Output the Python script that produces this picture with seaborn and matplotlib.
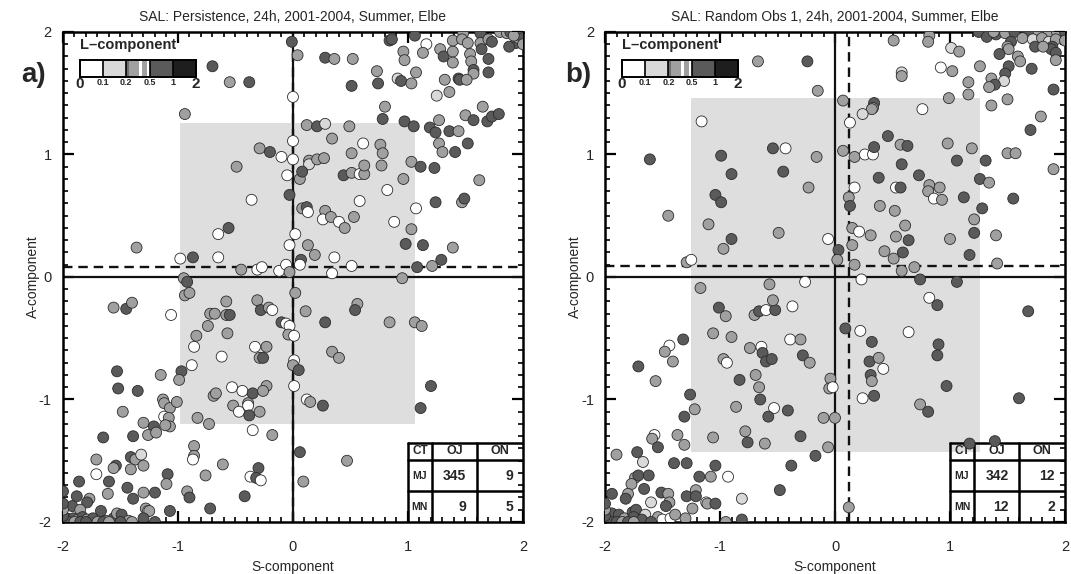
import matplotlib
matplotlib.use("Agg")
import matplotlib.pyplot as plt
from matplotlib.patches import Rectangle
from matplotlib.ticker import MultipleLocator
import pandas as pd
import seaborn as sns

# --- data ---
# panel a) Persistence: S-component, A-component, L-class code per point
pers_s = [
    -0.94, 0.12, 0.21, 0.28, 0.49, 0.78, 0.80, 0.97, 1.05, 1.19,
    1.24, 1.27, 1.36, 1.44, 1.50, 1.57, 1.65, 1.69, 1.73, 1.79,
    0.00, -0.29, -0.20, -0.10, 0.00, 0.14, 0.14, 0.21, 0.27, 0.34,
    0.51, 0.61, 0.76, 0.78, 1.27, 1.30, 1.41, 1.52, 1.03, 1.11,
    1.23, -0.49, -0.05, 0.06, 0.08, 0.44, 0.51, 0.58, 0.62, 0.62,
    0.77, 0.96, 1.62, -0.36, -0.03, 0.08, 0.12, 0.13, 0.28, 0.26,
    0.33, 0.40, 0.45, 0.53, 0.58, 0.82, 0.88, 1.07, 1.03, 1.24,
    1.47, 1.49, -0.56, -0.65, 0.02, -0.03, 0.13, 0.19, 0.07, 0.36,
    0.51, 0.06, 0.98, 1.13, 1.39, 1.29, 1.21, 1.08, -1.36, -0.98,
    -0.87, -0.65, -0.45, -0.31, -0.27, -0.12, -0.06, -0.03, 0.34, 0.95,
    -0.95, -0.92, -0.94, -0.90, -1.56, -1.45, -1.40, -1.06, -0.58, -0.72,
    -0.68, -0.58, -0.55, -0.31, -0.28, -0.21, -0.18, 0.02, 0.11, -0.10,
    -0.06, -0.03, -0.04, 0.01, 0.28, 0.56, 0.54, 0.84, 1.06, 1.12,
    -0.74, -0.84, -0.86, -0.62, -0.57, -0.33, -0.23, -0.29, -0.26, 0.01,
    0.00, 0.05, 0.01, 0.34, 0.40, -1.53, -1.52, -1.35, -1.15, -0.97,
    -0.99, -0.88, -1.13, -1.12, -1.07, -1.01, -1.48, -0.53, -0.44, -0.35,
    -0.23, -0.26, -0.69, -0.67, -0.52, -0.47, -0.39, -0.39, -0.38, -0.29,
    0.12, 0.15, 0.26, 1.20, 1.11, -1.30, -1.21, -1.12, -1.08, -1.07,
    -1.11, -0.83, -0.73, -0.35, -1.65, -1.39, -1.26, -1.19, -0.18, -0.86,
    -0.86, -0.87, -1.71, -1.54, -1.56, -1.41, -1.37, -1.32, -1.30, -1.41,
    -1.71, -1.09, -1.10, -0.61, -0.76, -0.30, -0.37, -0.32, -0.28, 0.06,
    0.09, 0.47, -1.86, -1.60, -1.61, -1.44, -1.30, -1.20, -1.88, -1.77,
    -1.79, -1.92, -1.85, -1.67, -1.39, -1.28, -1.26, -1.25, -0.92, -0.90,
    -0.72, -0.42, -1.07, -1.97, -1.91, -1.87, -1.83, -1.79, -1.74, -1.63,
    -1.56, -1.53, -1.49, -1.43, -1.30, -2.00, -1.95, -1.90, -1.85, -1.80,
    -1.70, -1.65, -1.60, -1.50, -2.00, -2.00, -2.00, -2.00, -1.40, -1.20,
    -0.01, 0.04, 0.28, 0.36, 0.52, -0.70, -0.55, -0.38, 0.51, 0.74,
    0.73, 0.91, 0.84, 0.86, 0.00, 1.06, 1.16, 1.13, 0.96, 0.97,
    1.07, 0.94, 1.03, 1.28, 1.31, 1.39, 1.39, 1.39, 1.48, 1.47,
    1.52, 1.54, 1.55, 1.57, 1.57, 1.63, 1.63, 1.64, 1.70, 1.73,
    1.70, 1.70, 1.80, 1.86, 1.89, 1.94, 1.97, 1.94, 1.88, 1.96,
    1.32, 1.44, 1.45, 1.51, 1.36, 1.25, 2.00, 2.00, 2.00, 1.92,
]
pers_a = [
    1.33, 1.24, 1.23, 1.25, 1.23, 1.29, 1.39, 1.27, 1.23, 1.22,
    1.18, 1.28, 1.19, 1.19, 1.32, 1.28, 1.39, 1.27, 1.31, 1.33,
    1.11, 1.05, 1.02, 0.98, 0.96, 0.95, 0.92, 0.96, 0.97, 1.13,
    1.01, 1.09, 1.08, 1.01, 1.09, 1.02, 1.02, 1.09, 0.94, 0.90,
    0.89, 0.90, 0.83, 0.80, 0.86, 0.83, 0.85, 0.84, 0.84, 0.91,
    0.91, 0.80, 0.79, 0.63, 0.67, 0.56, 0.57, 0.53, 0.54, 0.47,
    0.49, 0.45, 0.40, 0.49, 0.62, 0.71, 0.45, 0.56, 0.39, 0.61,
    0.61, 0.64, 0.40, 0.35, 0.35, 0.26, 0.26, 0.18, 0.14, 0.16,
    0.09, 0.10, 0.27, 0.26, 0.24, 0.14, 0.09, 0.08, 0.24, 0.15,
    0.16, 0.16, 0.06, 0.06, 0.08, 0.05, 0.10, 0.04, 0.03, -0.01,
    -0.01, -0.04, -0.15, -0.13, -0.25, -0.26, -0.21, -0.31, -0.20, -0.30,
    -0.30, -0.31, -0.31, -0.19, -0.27, -0.25, -0.27, -0.13, -0.28, -0.37,
    -0.38, -0.40, -0.47, -0.48, -0.37, -0.22, -0.27, -0.37, -0.37, -0.40,
    -0.40, -0.48, -0.57, -0.65, -0.46, -0.57, -0.57, -0.66, -0.66, -0.68,
    -0.72, -0.76, -0.89, -0.61, -0.66, -0.77, -0.91, -0.93, -0.80, -0.77,
    -0.84, -0.72, -1.00, -1.03, -1.07, -1.02, -1.10, -0.90, -0.93, -0.95,
    -0.89, -0.93, -0.97, -0.95, -1.05, -1.10, -1.03, -1.05, -1.13, -1.10,
    -1.00, -1.02, -1.05, -0.89, -1.07, -1.19, -1.22, -1.14, -1.15, -1.22,
    -1.21, -1.15, -1.20, -1.25, -1.31, -1.30, -1.29, -1.27, -1.29, -1.38,
    -1.46, -1.49, -1.49, -1.54, -1.56, -1.47, -1.49, -1.45, -1.54, -1.57,
    -1.61, -1.61, -1.69, -1.53, -1.62, -1.56, -1.63, -1.64, -1.66, -1.43,
    -1.67, -1.50, -1.67, -1.67, -1.77, -1.72, -1.76, -1.76, -1.79, -1.81,
    -1.84, -1.87, -1.90, -1.91, -1.81, -1.89, -1.91, -1.91, -1.75, -1.80,
    -1.89, -1.79, -1.91, -1.97, -1.97, -1.98, -1.96, -1.98, -1.97, -1.99,
    -1.97, -1.93, -1.94, -1.99, -1.97, -2.00, -2.00, -2.00, -2.00, -2.00,
    -2.00, -2.00, -2.00, -2.00, -1.95, -1.90, -1.85, -1.75, -2.00, -2.00,
    1.92, 1.81, 1.79, 1.78, 1.78, 1.72, 1.59, 1.59, 1.56, 1.58,
    1.68, 1.62, 1.93, 1.94, 1.47, 1.97, 1.90, 1.83, 1.84, 1.77,
    1.67, 1.60, 1.58, 1.86, 1.80, 1.84, 1.75, 1.93, 1.99, 1.94,
    1.91, 1.82, 1.76, 1.69, 1.66, 1.99, 1.91, 1.86, 1.94, 1.92,
    1.78, 1.67, 2.00, 1.99, 2.00, 2.00, 1.99, 1.91, 1.88, 1.95,
    1.61, 1.62, 1.61, 1.61, 1.51, 1.48, 2.00, 1.95, 1.90, 1.97,
]
pers_l = (
    "GGDLGDGDDD" "DGDGGDGDDD" "WGDWWGLGGG" "GWGGGGDDGD" "DGWGDDGWGG"
    "GGGWDGDWGW" "GWGGWWWWGD" "GDDWWWGGDW" "WWDDGDGDGW" "DWGWWWWGWG"
    "GDGGGDGWGG" "GGDGDGWGGD" "WWGWDGDGGG" "GGWWGWGGDW" "GDWGGDDDGD"
    "GWGGGGGWWD" "GGGGGWGWDG" "WGDDDGDWGG" "GGGWDDGGGG" "GWGDGDGLGG"
    "WDGGGDWDWD" "GGDDGDGDDG" "DDGDDGWGGD" "DDDDDGDGDG" "DGDGDDDGDD"
    "GDGDDGDDGD" "DGDGGDGDDD" "GLDDWDWGGG" "GDGGDGGGGG" "GGGDGDGDGD"
    "DDGGDDGDDG" "GDDGGLDDGG"
)

# panel b) Random Obs 1
rand_s = [
    0.07, 0.34, 0.33, 0.32, 0.24, 0.13, 0.76, 1.36, 1.79, -1.16,
    -1.61, -0.99, -0.90, -1.04, -0.99, -0.54, -0.43, -0.45, -0.16, -0.23,
    0.07, 0.17, 0.26, 0.33, 0.34, 0.46, 0.57, 0.63, 0.58, 0.38,
    0.98, 1.19, 1.06, 1.31, 1.26, 1.34, 1.50, 1.57, 1.70, 1.90,
    1.55, 0.73, 0.82, 0.81, 0.91, 0.86, 0.93, 0.17, 0.12, 0.13,
    0.53, 0.57, 0.39, 0.52, 0.61, 0.64, 0.53, 0.59, 0.51, 0.43,
    1.12, 1.28, 1.21, 1.21, 1.00, 1.17, 1.40, 1.41, -1.45, -1.10,
    -0.90, -0.97, -0.49, -1.29, -1.25, -0.06, 0.03, 0.02, 0.15, 0.21,
    0.15, 0.31, 0.17, 0.58, 0.69, 0.74, 1.06, 0.23, -1.17, -0.57,
    -0.26, -1.01, -0.95, -0.70, -0.66, -0.60, -0.52, -0.54, -0.37, 0.82,
    0.89, 1.68, 0.09, 0.22, 0.64, 0.32, 0.90, 0.89, -1.32, -1.44,
    -1.48, -1.41, -1.71, -1.56, -1.06, -0.90, -0.74, -0.64, -0.63, -0.60,
    -0.55, -0.39, -0.30, -0.28, -0.22, -0.97, -0.94, -0.83, -0.69, -0.66,
    -0.65, -0.86, -0.53, -0.58, -0.41, 0.30, 0.38, 0.42, 0.31, 0.32,
    0.34, 0.24, -0.04, -0.05, -0.02, 0.97, 0.74, 0.81, 1.60, -1.26,
    -1.22, -1.31, -0.10, 0.00, -0.78, -1.57, -1.59, -1.37, -1.54, -1.31,
    -1.06, -0.76, -0.61, -0.30, -0.06, -0.17, -1.90, -1.72, -1.67, -1.40,
    -1.29, -1.04, -0.38, 1.17, 1.39, -1.74, -1.71, -1.62, -1.77, -1.66,
    -1.51, -1.45, -1.18, -1.08, -0.93, -1.94, -1.80, -1.82, -1.60, -1.44,
    -1.47, -1.29, -1.21, -1.21, -1.24, -1.12, -1.11, -1.04, -0.81, -0.48,
    0.12, -1.94, -1.88, -1.83, -1.76, -1.73, -1.75, -1.65, -1.54, -1.50,
    -1.43, -1.39, -1.30, -1.68, -0.95, -0.81, -2.00, -1.95, -1.90, -1.85,
    -1.80, -2.00, -2.00, -2.00, -1.60, -1.75, -0.67, -0.24, -0.15, 0.51,
    0.82, 0.81, 0.58, 0.58, 1.25, 1.32, 1.40, 1.48, 1.56, 1.69,
    1.77, 1.86, 1.93, 1.38, 1.53, 1.63, 1.72, 1.80, 1.86, 1.92,
    1.89, 1.88, 1.92, 1.50, 1.51, 1.43, 1.59, 1.61, 1.74, 1.81,
    1.92, 1.01, 1.08, 0.92, 1.02, 1.26, 1.51, 1.48, 1.36, 1.47,
    1.39, 1.34, 1.71, 1.16, 1.16, 0.99, 1.50, 1.90, 2.00, 2.00,
]
rand_a = [
    1.44, 1.42, 1.38, 1.37, 1.33, 1.26, 1.37, 1.40, 1.31, 1.27,
    0.96, 0.99, 0.84, 0.67, 0.61, 1.05, 1.05, 0.86, 0.98, 0.73,
    1.03, 0.98, 1.00, 1.00, 1.06, 1.15, 1.08, 1.07, 0.92, 0.81,
    1.09, 1.05, 0.95, 0.95, 0.80, 0.77, 1.01, 1.01, 1.20, 0.88,
    0.64, 0.83, 0.75, 0.70, 0.73, 0.64, 0.63, 0.73, 0.65, 0.58,
    0.73, 0.73, 0.58, 0.54, 0.42, 0.30, 0.33, 0.20, 0.15, 0.21,
    0.65, 0.56, 0.47, 0.36, 0.31, 0.18, 0.34, 0.11, 0.50, 0.43,
    0.31, 0.23, 0.36, 0.12, 0.14, 0.31, 0.22, 0.14, 0.40, 0.37,
    0.26, 0.34, 0.10, 0.05, 0.08, -0.02, -0.04, -0.02, -0.09, -0.06,
    -0.04, -0.25, -0.32, -0.31, -0.28, -0.27, -0.27, -0.19, -0.24, -0.17,
    -0.23, -0.28, -0.42, -0.44, -0.45, -0.53, -0.55, -0.64, -0.51, -0.56,
    -0.61, -0.69, -0.73, -0.85, -0.46, -0.49, -0.58, -0.57, -0.62, -0.69,
    -0.67, -0.51, -0.51, -0.64, -0.70, -0.67, -0.70, -0.84, -0.80, -0.90,
    -1.00, -1.06, -1.07, -1.14, -1.09, -0.69, -0.66, -0.75, -0.80, -0.85,
    -0.97, -0.99, -0.83, -0.91, -0.90, -0.89, -1.04, -1.10, -0.99, -0.96,
    -1.08, -1.14, -1.15, -1.15, -1.26, -1.29, -1.32, -1.29, -1.39, -1.37,
    -1.31, -1.35, -1.36, -1.30, -1.39, -1.46, -1.45, -1.43, -1.51, -1.52,
    -1.52, -1.54, -1.54, -1.36, -1.34, -1.64, -1.62, -1.62, -1.69, -1.73,
    -1.76, -1.77, -1.63, -1.63, -1.63, -1.77, -1.77, -1.81, -1.84, -1.84,
    -1.87, -1.79, -1.74, -1.79, -1.89, -1.84, -1.85, -1.85, -1.81, -1.74,
    -1.88, -1.93, -1.94, -1.97, -1.92, -1.90, -1.96, -1.94, -1.96, -1.98,
    -1.97, -1.94, -1.97, -1.98, -2.00, -1.98, -2.00, -2.00, -2.00, -2.00,
    -2.00, -1.95, -1.90, -1.85, -2.00, -2.00, 1.76, 1.76, 1.52, 1.93,
    1.97, 1.92, 1.67, 1.64, 2.00, 1.96, 1.98, 1.99, 2.00, 2.00,
    2.00, 2.00, 2.00, 2.00, 1.92, 1.95, 1.94, 1.95, 1.92, 1.94,
    1.88, 1.86, 1.83, 1.88, 1.86, 1.82, 1.80, 1.76, 1.88, 1.88,
    1.77, 1.87, 1.84, 1.71, 1.68, 1.72, 1.72, 1.66, 1.62, 1.60,
    1.57, 1.55, 1.70, 1.59, 1.49, 1.46, 1.45, 1.53, 2.00, 1.93,
]
rand_l = (
    "GDGGLWWGGW" "DDDDDDWDGG" "GGWWDDGDDD" "GGDDDGGGDG" "DDGGGWGWGD"
    "WDGGGDGDGG" "DDGDGDGGGG" "DGGGWWDGGW" "GGGGGDDWGG" "WDGGDWDGWW"
    "DDDWWDDDDW" "GGDGGGGWDD" "DWGDGGWDGG" "DGWDDDGWDG" "DWGGWDGDDD"
    "GDGGGWGGDG" "GDGDGDGDLD" "DDDDDGDDGD" "DGDGWDGDLG" "DDGDGWGDLD"
    "GDDGDDDLGW" "WGGDGDDDDG" "DDGDDGGDGG" "GGLGDDDGDD" "GGGGDGLGLG"
    "DDDGGDGGDG" "GLGWGGDDGL" "DGDGGGGDDG"
)

# representative L-component value for each shade class
l_value = {"W": 0.05, "L": 0.15, "G": 0.35, "D": 0.75}
l_edges = [0, 0.1, 0.2, 0.5, 1, 2]
l_ticks = ["0", "0.1", "0.2", "0.5", "1", "2"]
shades = ["#ffffff", "#d9d9d9", "#a0a0a0", "#5a5a5a", "#1e1e1e"]

# interquartile boxes (S lo, S hi, A lo, A hi) and medians (S, A)
pers_box = (-0.98, 1.06, -1.20, 1.26)
rand_box = (-1.25, 1.26, -1.43, 1.46)
pers_med = (0.0, 0.08)
rand_med = (0.12, 0.09)

table_cols = ["CT", "OJ", "ON"]
table_rows = ["MJ", "MN"]
pers_table = [[345, 9], [9, 5]]
rand_table = [[342, 12], [12, 2]]

titles = ["SAL: Persistence, 24h, 2001-2004, Summer, Elbe",
          "SAL: Random Obs 1, 24h, 2001-2004, Summer, Elbe"]

sns.set_style("ticks")
plt.rcParams["font.family"] = ["Liberation Sans", "DejaVu Sans"]
plt.rcParams["axes.unicode_minus"] = False


def draw_colorbar(ax):
    x0, w, y0, h = 0.037, 0.0504, 0.908, 0.035
    tr = ax.transAxes
    for i, c in enumerate(shades):
        ax.add_patch(Rectangle((x0 + i * w, y0), w, h, transform=tr,
                               fc=c, ec="none", zorder=6))
    # the 0.2-0.5 bin shows thin white stripes in the original
    for f0, f1 in [(0.55, 0.67), (0.9, 1.0)]:
        ax.add_patch(Rectangle((x0 + 2 * w + f0 * w, y0), (f1 - f0) * w, h,
                               transform=tr, fc="white", ec="none", zorder=6))
    ax.add_patch(Rectangle((x0 + 2 * w, y0), 0.12 * w, h, transform=tr,
                           fc="#6e6e6e", ec="none", zorder=6))
    for i in range(6):
        ax.plot([x0 + i * w] * 2, [y0, y0 + h], transform=tr, color="black",
                lw=1.2, zorder=7, solid_capstyle="butt")
    ax.add_patch(Rectangle((x0, y0), 5 * w, h, transform=tr, fc="none",
                           ec="black", lw=1.4, zorder=7))
    ax.text(x0, 0.974, "L\u2013component", transform=tr, fontsize=10.5,
            fontweight="bold", va="center", ha="left", zorder=7)
    for i, lab in enumerate(l_ticks):
        big = lab in ("0", "2")
        ax.text(x0 + i * w, 0.893 if big else 0.897, lab, transform=tr,
                fontsize=11 if big else 6.5, fontweight="bold",
                ha="center", va="center", zorder=7)


def draw_table(ax, cells):
    xs = [0.75, 0.802, 0.90, 1.0]
    ys = [0.162, 0.126, 0.063, 0.0]
    tr = ax.transAxes
    for x in xs[:-1]:
        ax.plot([x, x], [0, ys[0]], transform=tr, color="black", lw=1.8, zorder=3)
    for y in ys[:-1]:
        ax.plot([xs[0], 1], [y, y], transform=tr, color="black", lw=1.8, zorder=3)
    yc = [(ys[i] + ys[i + 1]) / 2 for i in range(3)]
    ax.text(0.776, yc[0], table_cols[0], transform=tr, fontsize=8.5,
            fontweight="bold", ha="center", va="center")
    ax.text(0.851, yc[0], table_cols[1], transform=tr, fontsize=9,
            fontweight="bold", ha="center", va="center")
    ax.text(0.95, yc[0], table_cols[2], transform=tr, fontsize=9,
            fontweight="bold", ha="center", va="center")
    for r, name in enumerate(table_rows):
        ax.text(0.776, yc[r + 1], name, transform=tr, fontsize=7.5,
                fontweight="bold", ha="center", va="center")
        ax.text(0.877, yc[r + 1], str(cells[r][0]), transform=tr, fontsize=10,
                fontweight="bold", ha="right", va="center")
        ax.text(0.978, yc[r + 1], str(cells[r][1]), transform=tr, fontsize=10,
                fontweight="bold", ha="right", va="center")


def draw_panel(ax, s, a, codes, box, med, cells, title, letter):
    df = pd.DataFrame({"S": s, "A": a, "L": [l_value[c] for c in codes]})
    df["bin"] = pd.cut(df["L"], l_edges, labels=l_ticks[1:])

    ax.add_patch(Rectangle((box[0], box[2]), box[1] - box[0], box[3] - box[2],
                           fc="#dedede", ec="none", zorder=0))
    ax.axhline(med[1], color="#111111", lw=1.7, ls=(0, (4, 2.5)), zorder=1)
    ax.axvline(med[0], color="#111111", lw=1.7, ls=(0, (4, 2.5)), zorder=1)
    ax.axhline(0, color="#111111", lw=1.6, zorder=2)
    ax.axvline(0, color="#111111", lw=1.6, zorder=2)

    sns.scatterplot(data=df, x="S", y="A", hue="bin", hue_order=l_ticks[1:],
                    palette=dict(zip(l_ticks[1:], shades)), s=62,
                    edgecolor="#2b2b2b", linewidth=0.6, legend=False,
                    ax=ax, zorder=5)

    ax.set_xlim(-2, 2)
    ax.set_ylim(-2, 2)
    ax.xaxis.set_major_locator(MultipleLocator(1))
    ax.yaxis.set_major_locator(MultipleLocator(1))
    ax.xaxis.set_minor_locator(MultipleLocator(0.1))
    ax.yaxis.set_minor_locator(MultipleLocator(0.1))
    ax.tick_params(which="both", direction="in", top=True, right=True,
                   labelsize=10.5, color="black")
    ax.tick_params(which="major", length=8, width=1.6)
    ax.tick_params(which="minor", length=3.5, width=1.2)
    ax.tick_params(axis="x", which="major", pad=13)
    ax.tick_params(axis="y", which="major", pad=8)
    for sp in ax.spines.values():
        sp.set_linewidth(1.8)
        sp.set_color("black")

    ax.set_xlabel("S-component", fontsize=10)
    ax.set_ylabel("A-component", fontsize=10)
    ax.xaxis.set_label_coords(0.5, -0.078)
    ax.yaxis.set_label_coords(-0.050, 0.5)
    ax.set_title(title, fontsize=10, pad=8)

    draw_colorbar(ax)
    draw_table(ax, cells)
    ax.figure.text(letter[1], 0.869, letter[0], fontsize=20,
                   fontweight="bold", ha="center", va="center")


fig = plt.figure(figsize=(10.71, 5.74), dpi=100)
ax1 = fig.add_axes([0.0588, 0.0906, 0.4295, 0.8537])
ax2 = fig.add_axes([0.5649, 0.0906, 0.4295, 0.8537])

draw_panel(ax1, pers_s, pers_a, pers_l, pers_box, pers_med, pers_table,
           titles[0], ("a)", 0.031))
draw_panel(ax2, rand_s, rand_a, rand_l, rand_box, rand_med, rand_table,
           titles[1], ("b)", 0.540))

fig.savefig("out.png", dpi=100)
